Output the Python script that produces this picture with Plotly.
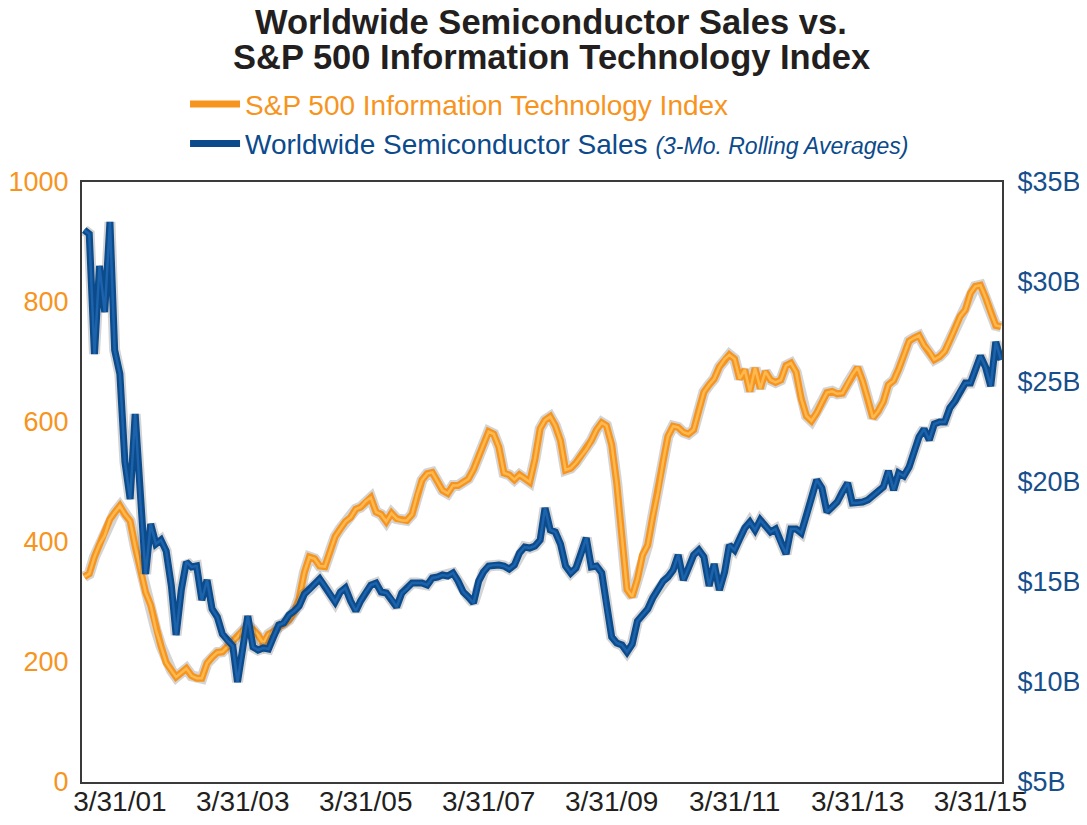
import pandas as pd
import plotly.graph_objects as go

# Monthly observations, Aug 2000 - Jul 2015
dates = pd.date_range("2000-08-31", periods=180, freq="ME")

sp500_it = [
    342, 347, 375, 396, 411, 438, 449, 460, 446, 435,
    393, 355, 316, 295, 254, 227, 199, 186, 175, 182,
    189, 177, 173, 173, 198, 208, 216, 217, 226, 234,
    242, 254, 261, 254, 245, 231, 246, 251, 258, 263,
    270, 284, 306, 349, 375, 372, 360, 359, 386, 409,
    422, 434, 441, 455, 458, 468, 474, 450, 446, 434,
    448, 439, 436, 436, 446, 480, 503, 514, 516, 501,
    486, 481, 494, 494, 499, 505, 521, 542, 563, 584,
    580, 558, 515, 512, 504, 512, 506, 500, 538, 589,
    603, 609, 594, 569, 520, 523, 532, 543, 554, 569,
    587, 599, 594, 562, 498, 408, 321, 309, 338, 378,
    395, 442, 482, 535, 576, 593, 591, 583, 580, 587,
    620, 650, 662, 672, 692, 705, 712, 705, 672, 687,
    651, 690, 656, 684, 670, 666, 670, 694, 698, 683,
    639, 610, 602, 615, 633, 649, 651, 647, 648, 664,
    679, 691, 668, 639, 607, 618, 634, 662, 669, 688,
    712, 735, 740, 744, 728, 718, 704, 709, 718, 736,
    756, 776, 787, 815, 826, 828, 808, 783, 761, 759,
]

semi_sales_b = [
    32.6, 32.4, 26.4, 30.8, 28.5, 33.0, 26.6, 25.4, 21.0, 19.15,
    23.4, 19.0, 15.4, 17.9, 16.9, 17.1, 16.55, 14.8, 12.35, 14.6,
    16.0, 15.75, 15.8, 14.1, 15.1, 13.65, 13.25, 12.4, 12.05, 11.8,
    10.0, 11.8, 13.3, 11.75, 11.6, 11.7, 11.65, 12.25, 12.85, 12.95,
    13.35, 13.55, 13.8, 14.4, 14.6, 14.9, 15.15, 14.8, 14.4, 14.0,
    14.5, 14.7, 14.05, 13.55, 14.05, 14.5, 14.85, 14.95, 14.5, 14.45,
    14.15, 13.75, 14.45, 14.65, 14.95, 14.95, 14.95, 14.85, 15.2, 15.25,
    15.35, 15.3, 15.45, 15.05, 14.5, 14.25, 13.95, 15.05, 15.5, 15.8,
    15.85, 15.85, 15.8, 15.65, 15.85, 16.45, 16.75, 16.7, 16.8, 17.1,
    18.7, 17.6, 17.5, 16.9, 15.8, 15.45, 15.7, 16.4, 17.2, 15.75,
    15.8, 15.45, 13.75, 12.25, 11.95, 11.85, 11.5, 11.9, 13.05, 13.35,
    13.65, 14.2, 14.65, 15.05, 15.25, 15.6, 16.35, 15.1, 15.7, 16.35,
    16.6, 16.25, 14.8, 15.9, 14.6, 15.5, 16.85, 16.6, 17.15, 17.7,
    18.0, 17.6, 18.1, 17.8, 17.5, 17.65, 16.95, 16.4, 17.65, 17.65,
    17.45, 18.25, 19.1, 20.1, 19.7, 18.5, 18.75, 19.0, 19.5, 19.95,
    18.95, 18.95, 19.0, 19.1, 19.3, 19.55, 19.75, 20.55, 19.6, 20.45,
    20.3, 20.75, 21.5, 22.25, 22.65, 22.1, 22.9, 23.0, 23.0, 23.7,
    24.05, 24.55, 24.95, 24.95, 25.6, 26.3, 25.75, 24.8, 27.0, 26.1,
]

tick_dates = ["2001-03-31", "2003-03-31", "2005-03-31", "2007-03-31",
              "2009-03-31", "2011-03-31", "2013-03-31", "2015-03-31"]
tick_labels = ["3/31/01", "3/31/03", "3/31/05", "3/31/07",
               "3/31/09", "3/31/11", "3/31/13", "3/31/15"]

left_ticks = [0, 200, 400, 600, 800, 1000]
right_ticks = [5, 10, 15, 20, 25, 30, 35]
right_labels = ["$5B", "$10B", "$15B", "$20B", "$25B", "$30B", "$35B"]

ORANGE = "#F7941D"
ORANGE_LIGHT = "#FDB94F"
BLUE = "#0B4A8B"
BLUE_LIGHT = "#1C63AB"
SHADOW = "rgba(60,60,60,0.22)"
FONT = "Liberation Sans, Arial, sans-serif"

fig = go.Figure()

# Semiconductor sales (right axis) - drawn first (under)
fig.add_trace(go.Scatter(x=dates, y=semi_sales_b, yaxis="y2", mode="lines",
                         line=dict(color=SHADOW, width=11), hoverinfo="skip",
                         showlegend=False))
fig.add_trace(go.Scatter(x=dates, y=semi_sales_b, yaxis="y2", mode="lines",
                         line=dict(color=BLUE, width=7),
                         name=f'<span style="color:{BLUE}">Worldwide Semiconductor Sales </span>'
                              f'<span style="color:{BLUE};font-size:23px"><i>(3-Mo. Rolling Averages)</i></span>',
                         legendgroup="b", legendrank=2))
fig.add_trace(go.Scatter(x=dates, y=semi_sales_b, yaxis="y2", mode="lines",
                         line=dict(color=BLUE_LIGHT, width=2.5), hoverinfo="skip",
                         showlegend=False))

# S&P 500 IT index (left axis)
fig.add_trace(go.Scatter(x=dates, y=sp500_it, mode="lines",
                         line=dict(color=SHADOW, width=11), hoverinfo="skip",
                         showlegend=False))
fig.add_trace(go.Scatter(x=dates, y=sp500_it, mode="lines",
                         line=dict(color=ORANGE, width=7),
                         name=f'<span style="color:{ORANGE}">S&P 500 Information Technology Index</span>',
                         legendgroup="a", legendrank=1))
fig.add_trace(go.Scatter(x=dates, y=sp500_it, mode="lines",
                         line=dict(color=ORANGE_LIGHT, width=2.5), hoverinfo="skip",
                         showlegend=False))

title_lines = ["Worldwide Semiconductor Sales vs.", "S&P 500 Information Technology Index"]
for line_text, ypos in zip(title_lines, [1.267, 1.209]):
    fig.add_annotation(
        text=f"<b>{line_text}</b>",
        xref="paper", yref="paper", x=0.51, y=ypos, xanchor="center", yanchor="middle",
        showarrow=False, align="center",
        font=dict(family=FONT, size=34.5, color="#231F20"))

fig.update_layout(
    width=1071, height=809,
    margin=dict(l=74, r=77, t=174, b=35, autoexpand=False),
    paper_bgcolor="white", plot_bgcolor="white",
    font=dict(family=FONT, size=28, color="#231F20"),
    legend=dict(x=0.112, y=1.171, xanchor="left", yanchor="top",
                font=dict(family=FONT, size=28),
                bgcolor="rgba(0,0,0,0)", tracegroupgap=4, itemwidth=50,
                traceorder="normal"),
    xaxis=dict(type="date", range=["2000-08-18", "2015-08-06"], automargin=False,
               tickvals=tick_dates, ticktext=tick_labels, ticks="",
               showgrid=False, zeroline=False,
               showline=True, linecolor="#3A3A3A", linewidth=2, mirror=True,
               tickfont=dict(size=28, color="#231F20"), ticklabelstandoff=-7),
    yaxis=dict(range=[0, 1000], tickvals=left_ticks, ticks="", automargin=False,
               showgrid=False, zeroline=False,
               showline=True, linecolor="#3A3A3A", linewidth=2, mirror=True,
               tickfont=dict(size=27, color=ORANGE), ticklabelstandoff=6),
    yaxis2=dict(range=[5, 35], tickvals=right_ticks, ticktext=right_labels,
                overlaying="y", side="right", ticks="", automargin=False,
                showgrid=False, zeroline=False,
                showline=True, linecolor="#3A3A3A", linewidth=2,
                tickfont=dict(size=27, color="#174F8C"), ticklabelstandoff=8),
    hovermode=False,
)

fig.write_html("out.html")
